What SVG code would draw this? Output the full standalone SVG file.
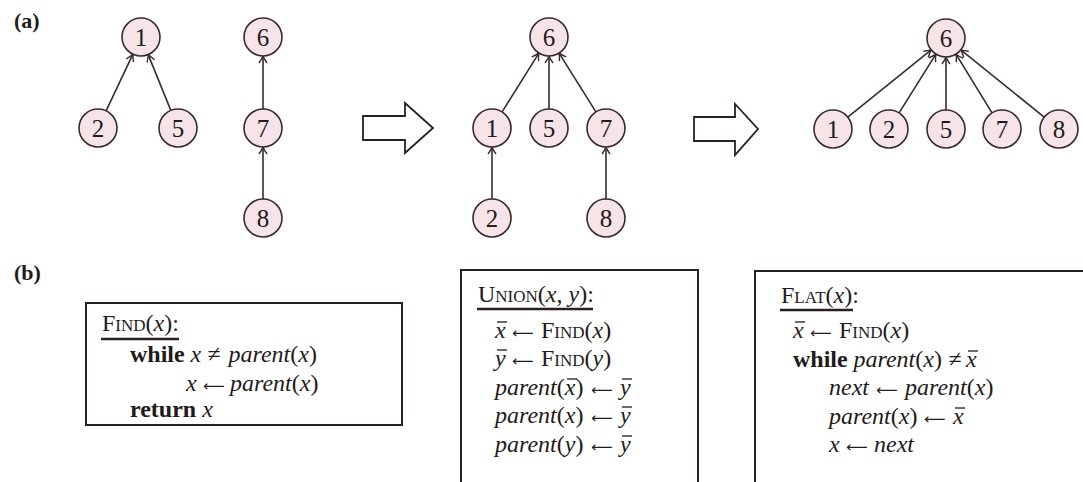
<svg xmlns="http://www.w3.org/2000/svg" width="1083" height="482" viewBox="0 0 1083 482">
  <defs>
    <style>
      .node circle { fill: #f6e4e8; stroke: #3a2a2c; stroke-width: 1.6; }
      .node text { font-family: "Liberation Serif", "Times New Roman", serif; font-size: 25px; fill: #231a1a; text-anchor: middle; }
      .edge { stroke: #3a2a2c; stroke-width: 1.6; fill: none; marker-end: url(#tip); }
      .bigarrow { fill: #ffffff; stroke: #2a1f20; stroke-width: 1.8; stroke-linejoin: miter; }
      .label { font-family: "Liberation Serif", "Times New Roman", serif; font-size: 22px; font-weight: bold; fill: #231a1a; }
      .box { fill: #ffffff; stroke: #2a1f20; stroke-width: 2; }
      .code { font-family: "Liberation Serif", "Times New Roman", serif; font-size: 24px; fill: #231a1a; }
      .i { font-style: italic; }
      .b { font-weight: bold; }
      .sc { font-size: 17px; }
      .op { font-family: "DejaVu Sans", sans-serif; font-size: 15px; }
      .rule { stroke: #2a1f20; stroke-width: 2.5; }
      .bar { stroke: #231a1a; stroke-width: 1.3; }
    </style>
    <marker id="tip" markerWidth="12" markerHeight="12" refX="0" refY="0" viewBox="-9 -6 12 12" orient="auto" markerUnits="userSpaceOnUse">
      <path d="M-7,-4 Q-3,-1.2 0,0 Q-3,1.2 -7,4" fill="none" stroke="#3a2a2c" stroke-width="1.4"/>
    </marker>
  </defs>

  <!-- panel labels -->
  <text class="label" x="14" y="28">(a)</text>
  <text class="label" x="14" y="280">(b)</text>

  <!-- connectors: child to parent pointers -->
  <g id="connectors">
    <!-- forest before union -->
    <line class="edge" x1="106.1" y1="110.8" x2="132.9" y2="54.2"/>
    <line class="edge" x1="170.8" y1="110.4" x2="148.2" y2="54.6"/>
    <line class="edge" x1="263" y1="109" x2="263" y2="56"/>
    <line class="edge" x1="263" y1="199" x2="263" y2="147"/>
    <!-- after union -->
    <line class="edge" x1="502.1" y1="111.9" x2="538.9" y2="53.1"/>
    <line class="edge" x1="549" y1="109" x2="549" y2="56"/>
    <line class="edge" x1="595.9" y1="111.9" x2="559.1" y2="53.1"/>
    <line class="edge" x1="492" y1="199" x2="492" y2="147"/>
    <line class="edge" x1="606" y1="199" x2="606" y2="147"/>
    <!-- after flattening -->
    <line class="edge" x1="847.8" y1="117.1" x2="931.2" y2="49.9"/>
    <line class="edge" x1="899.1" y1="112.9" x2="935.9" y2="54.1"/>
    <line class="edge" x1="946" y1="110" x2="946" y2="57"/>
    <line class="edge" x1="992.0" y1="112.8" x2="956.0" y2="54.2"/>
    <line class="edge" x1="1044.2" y1="117.1" x2="960.8" y2="49.9"/>
  </g>

  <!-- forest before union -->
  <g id="a1-n1" class="node"><circle cx="141" cy="37" r="19"/><text x="141" y="45.5">1</text></g>
  <g id="a1-n2" class="node"><circle cx="98" cy="128" r="19"/><text x="98" y="136.5">2</text></g>
  <g id="a1-n5" class="node"><circle cx="178" cy="128" r="19"/><text x="178" y="136.5">5</text></g>
  <g id="a1-n6" class="node"><circle cx="263" cy="37" r="19"/><text x="263" y="45.5">6</text></g>
  <g id="a1-n7" class="node"><circle cx="263" cy="128" r="19"/><text x="263" y="136.5">7</text></g>
  <g id="a1-n8" class="node"><circle cx="263" cy="218" r="19"/><text x="263" y="226.5">8</text></g>

  <g id="step-arrow-1"><polygon class="bigarrow" points="363,116 405,116 405,103 433,128 405,153 405,140 363,140"/></g>

  <!-- after union -->
  <g id="a2-n6" class="node"><circle cx="549" cy="37" r="19"/><text x="549" y="45.5">6</text></g>
  <g id="a2-n1" class="node"><circle cx="492" cy="128" r="19"/><text x="492" y="136.5">1</text></g>
  <g id="a2-n5" class="node"><circle cx="549" cy="128" r="19"/><text x="549" y="136.5">5</text></g>
  <g id="a2-n7" class="node"><circle cx="606" cy="128" r="19"/><text x="606" y="136.5">7</text></g>
  <g id="a2-n2" class="node"><circle cx="492" cy="218" r="19"/><text x="492" y="226.5">2</text></g>
  <g id="a2-n8" class="node"><circle cx="606" cy="218" r="19"/><text x="606" y="226.5">8</text></g>

  <g id="step-arrow-2"><polygon class="bigarrow" points="694,117 735,117 735,104 758,129 735,155 735,141 694,141"/></g>

  <!-- after flattening -->
  <g id="a3-n6" class="node"><circle cx="946" cy="38" r="19"/><text x="946" y="46.5">6</text></g>
  <g id="a3-n1" class="node"><circle cx="833" cy="129" r="19"/><text x="833" y="137.5">1</text></g>
  <g id="a3-n2" class="node"><circle cx="889" cy="129" r="19"/><text x="889" y="137.5">2</text></g>
  <g id="a3-n5" class="node"><circle cx="946" cy="129" r="19"/><text x="946" y="137.5">5</text></g>
  <g id="a3-n7" class="node"><circle cx="1002" cy="129" r="19"/><text x="1002" y="137.5">7</text></g>
  <g id="a3-n8" class="node"><circle cx="1059" cy="129" r="19"/><text x="1059" y="137.5">8</text></g>

  <!-- FIND -->
  <g id="find-box">
    <rect class="box" x="86" y="303" width="316" height="122"/>
    <text class="code" x="102" y="331">F<tspan class="sc">IND</tspan>(<tspan class="i">x</tspan>):</text>
    <line class="rule" x1="101" y1="339" x2="179" y2="339"/>
    <text class="code" y="362"><tspan class="b" x="130">while</tspan><tspan class="i" x="190.5">x</tspan><tspan x="207.5">≠</tspan><tspan class="i" x="228.5">parent</tspan>(<tspan class="i">x</tspan>)</text>
    <text class="code" y="391"><tspan class="i" x="186">x</tspan><tspan class="op" x="203">⟵</tspan><tspan class="i" x="230">parent</tspan>(<tspan class="i">x</tspan>)</text>
    <text class="code" x="130" y="417"><tspan class="b">return</tspan> <tspan class="i">x</tspan></text>
  </g>

  <!-- UNION -->
  <g id="union-box">
    <rect class="box" x="461" y="270" width="237" height="230"/>
    <text class="code" x="478" y="302">U<tspan class="sc">NION</tspan>(<tspan class="i">x</tspan>, <tspan class="i">y</tspan>):</text>
    <line class="rule" x1="477" y1="309" x2="593" y2="309"/>
    <text class="code" y="338"><tspan class="i" x="495">x</tspan><tspan class="op" x="512">⟵</tspan><tspan x="541">F</tspan><tspan class="sc">IND</tspan>(<tspan class="i">x</tspan>)</text>
    <line class="bar" x1="497" y1="322" x2="507" y2="322"/>
    <text class="code" y="366"><tspan class="i" x="495">y</tspan><tspan class="op" x="512">⟵</tspan><tspan x="541">F</tspan><tspan class="sc">IND</tspan>(<tspan class="i">y</tspan>)</text>
    <line class="bar" x1="497" y1="350" x2="507" y2="350"/>
    <text class="code" y="395"><tspan class="i" x="495">parent</tspan>(<tspan class="i">x</tspan>)<tspan class="op" x="591">⟵</tspan><tspan class="i" x="620">y</tspan></text>
    <line class="bar" x1="567" y1="379" x2="577" y2="379"/>
    <line class="bar" x1="622" y1="379" x2="632" y2="379"/>
    <text class="code" y="423"><tspan class="i" x="495">parent</tspan>(<tspan class="i">x</tspan>)<tspan class="op" x="591">⟵</tspan><tspan class="i" x="620">y</tspan></text>
    <line class="bar" x1="622" y1="407" x2="632" y2="407"/>
    <text class="code" y="452"><tspan class="i" x="495">parent</tspan>(<tspan class="i">y</tspan>)<tspan class="op" x="591">⟵</tspan><tspan class="i" x="620">y</tspan></text>
    <line class="bar" x1="622" y1="436" x2="632" y2="436"/>
  </g>

  <!-- FLAT -->
  <g id="flat-box">
    <rect class="box" x="755" y="271" width="340" height="230"/>
    <text class="code" x="781" y="303">F<tspan class="sc">LAT</tspan>(<tspan class="i">x</tspan>):</text>
    <line class="rule" x1="780" y1="310" x2="853" y2="310"/>
    <text class="code" y="338"><tspan class="i" x="793">x</tspan><tspan class="op" x="810">⟵</tspan><tspan x="839">F</tspan><tspan class="sc">IND</tspan>(<tspan class="i">x</tspan>)</text>
    <line class="bar" x1="795" y1="322" x2="805" y2="322"/>
    <text class="code" y="367"><tspan class="b" x="793">while</tspan><tspan class="i" x="853.5">parent</tspan>(<tspan class="i">x</tspan>)<tspan x="948.5">≠</tspan><tspan class="i" x="966">x</tspan></text>
    <line class="bar" x1="968" y1="351" x2="978" y2="351"/>
    <text class="code" y="395"><tspan class="i" x="829">next</tspan><tspan class="op" x="876">⟵</tspan><tspan class="i" x="905">parent</tspan>(<tspan class="i">x</tspan>)</text>
    <text class="code" y="424"><tspan class="i" x="829">parent</tspan>(<tspan class="i">x</tspan>)<tspan class="op" x="924">⟵</tspan><tspan class="i" x="953">x</tspan></text>
    <line class="bar" x1="955" y1="408" x2="965" y2="408"/>
    <text class="code" y="452"><tspan class="i" x="829">x</tspan><tspan class="op" x="846">⟵</tspan><tspan class="i" x="874">next</tspan></text>
  </g>
</svg>
